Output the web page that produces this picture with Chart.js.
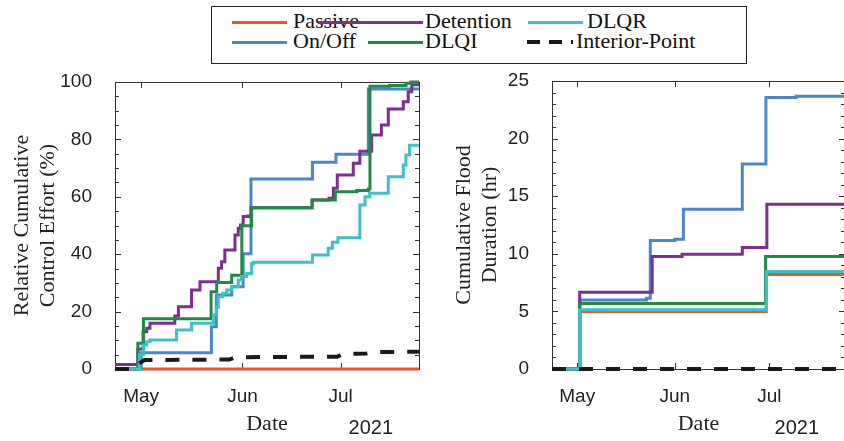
<!DOCTYPE html>
<html>
<head>
<meta charset="utf-8">
<script src="https://cdn.jsdelivr.net/npm/chart.js@4.4.1/dist/chart.umd.min.js"></script>
<style>
  body { margin: 0; width: 844px; height: 441px; overflow: hidden; background: #fff; position: relative; }
  .panel { position: absolute; top: 0; width: 430px; height: 441px; }
  #legendBox { position: absolute; left: 211px; top: 6px; width: 534px; height: 56px; border: 1px solid #222; background: #fff; }
  .swatch { position: absolute; height: 3px; }
  .lbl { position: absolute; font-family: 'Liberation Serif', serif; font-size: 22px; line-height: 22px; color: #111; white-space: nowrap; }
</style>
</head>
<body>
<div class="panel" style="left:0"><canvas id="effortChart" width="430" height="441"></canvas></div>
<div class="panel" style="left:430px"><canvas id="floodChart" width="430" height="441"></canvas></div>
<div id="legendBox"></div>

<script>
// series shared by both panels
const seriesNames = ['Passive', 'On/Off', 'Detention', 'DLQI', 'DLQR', 'Interior-Point'];
const seriesColors = ['#F0532B', '#4A87C9', '#7E2E8D', '#1F8A45', '#3EC0C6', '#1A1A1A'];

// x axis: days counted from 1 May 2021
const xTickDays = [0, 31, 61];
const xTickLabels = ['May', 'Jun', 'Jul'];
const xMinDay = -8, xMaxDay = 85;
const yearLabel = '2021';

// Left panel: relative cumulative control effort (%) as [day, value] steps
const effortPassive = [[-8, 0], [85, 0]];
const effortOnOff = [[-8, 0], [-1, 0], [0, 5.7], [21.5, 14.7], [23, 25.8], [27.7, 28.7], [31.2, 40.2],
  [33.6, 66.2], [52.4, 72], [59.6, 74.8], [69.5, 97.6], [85, 97.6]];
const effortDetention = [[-8, 1.6], [-2, 1.6], [-1, 7], [0.6, 13], [1.7, 14.2], [2.7, 15.9], [10.3, 18.5],
  [11.4, 21.7], [15.4, 27.5], [18, 30.4], [23.6, 35.1], [24.6, 37.4], [25.6, 41.5], [28.7, 46.7],
  [29.7, 49], [30.4, 50.2], [31.2, 53.1], [32.8, 53.3], [33.6, 56.2], [52.3, 58.9], [57.5, 59.5],
  [58.8, 63], [60, 67.6], [64.9, 71.7], [66.9, 75.9], [70.5, 81.5], [73.5, 85], [75.6, 90.6],
  [80.2, 93.1], [81.7, 96.6], [82.8, 99], [85, 99]];
const effortDLQI = [[-8, 0], [-2, 0], [-1, 9], [0.7, 17.5], [21.4, 26.9], [23.1, 30.1], [27.7, 32.7],
  [30.8, 49.9], [33.8, 56.2], [52.3, 58.9], [59.4, 61.8], [66, 62.2], [69.5, 62.7], [70, 98.5],
  [76, 98.8], [81, 99.6], [82.5, 100], [85, 100]];
const effortDLQR = [[-8, 0], [-1.5, 0], [-0.5, 5], [0.7, 8.4], [1.7, 9.5], [2.7, 10.1], [10.8, 13.6],
  [15.4, 15.9], [22.1, 18.8], [23, 21.5], [23.6, 25.2], [25, 26.4], [26.2, 27.5], [27.7, 28.7],
  [29.7, 31], [30.7, 32.2], [32.3, 33.3], [33.8, 36.8], [34.3, 37.2], [52.4, 39.7], [57.2, 42.1],
  [58.5, 44.2], [60.2, 45.7], [66.9, 57.1], [68.5, 60], [69.9, 61.2], [75.6, 67], [80.2, 71.1],
  [81, 74.6], [82.1, 78], [85, 78]];
const effortInteriorPoint = [[-8, 0], [-2, 0], [-0.5, 2], [1, 3.1], [27, 3.3], [29, 4.1], [60, 4.3],
  [61.5, 5.2], [69, 5.4], [71, 5.9], [85, 6]];

// Right panel: cumulative flood duration (hr)
const floodPassive = [[-8, 0], [0.8, 5.0], [60, 8.2], [85, 8.2]];
const floodOnOff = [[-8, 0], [0.8, 6.0], [22, 6.15], [23.2, 11.15], [31, 11.26], [33.7, 13.86],
  [52.4, 17.79], [59.9, 23.57], [69.5, 23.68], [85, 23.68]];
const floodDetention = [[-8, 0], [0.8, 6.67], [23.8, 9.76], [33.3, 9.96], [52.4, 10.54], [60.2, 14.3], [85, 14.3]];
const floodDLQI = [[-8, 0], [0.8, 5.69], [59.8, 9.76], [85, 9.76]];
const floodDLQR = [[-8, 0], [0.8, 5.14], [60, 8.47], [85, 8.47]];
const floodInteriorPoint = [[-8, 0], [85, 0]];

// Box around the plot area with inward ticks on all four sides
const axesBox = {
    id: 'axesBox',
    beforeDatasetsDraw(chart, args, opts) {
        const { ctx, chartArea: a, scales: { x, y } } = chart;
        ctx.save();
        ctx.strokeStyle = '#333';
        ctx.lineWidth = 1;
        ctx.strokeRect(Math.round(a.left) + 0.5, Math.round(a.top) + 0.5, Math.round(a.width), Math.round(a.height));
        ctx.beginPath();
        for (let v = y.min; v <= y.max + 1e-9; v += opts.minor) {
            const py = Math.round(y.getPixelForValue(v)) + 0.5;
            const len = Math.abs(v % opts.major) < 1e-9 ? 6 : 4;
            ctx.moveTo(a.left, py); ctx.lineTo(a.left + len, py);
            ctx.moveTo(a.right, py); ctx.lineTo(a.right - len, py);
        }
        xTickDays.forEach(d => {
            const px = Math.round(x.getPixelForValue(d)) + 0.5;
            ctx.moveTo(px, a.bottom); ctx.lineTo(px, a.bottom - 6);
            ctx.moveTo(px, a.top); ctx.lineTo(px, a.top + 6);
        });
        ctx.stroke();
        ctx.restore();
    },
    afterDraw(chart) {
        const { ctx, chartArea: a } = chart;
        ctx.save();
        ctx.font = '20px "Liberation Sans", Arial, sans-serif';
        ctx.fillStyle = '#222';
        ctx.textAlign = 'right';
        ctx.textBaseline = 'alphabetic';
        ctx.fillText(yearLabel, a.right - 26, a.bottom + 65);
        ctx.restore();
    }
};

function makeChart(id, series, yMax, yMajor, yMinor, yTitle, pad) {
    const datasets = series.map((pts, i) => ({
        label: seriesNames[i],
        data: pts.map(p => ({ x: p[0], y: p[1] })),
        borderColor: seriesColors[i],
        borderWidth: i === 5 ? 4 : 3,
        borderDash: i === 5 ? [14, 13] : [],
        borderCapStyle: 'butt',
        stepped: i === 5 ? false : 'before',
        tension: 0,
        pointRadius: 0,
        clip: 6,
        order: 5 - i
    }));

    return new Chart(document.getElementById(id), {
        type: 'line',
        data: { datasets },
        plugins: [axesBox],
        options: {
            responsive: false,
            animation: false,
            events: [],
            layout: { padding: { top: pad.top, right: pad.right, left: 0, bottom: 0 } },
            plugins: {
                legend: { display: false },
                tooltip: { enabled: false },
                axesBox: { major: yMajor, minor: yMinor }
            },
            scales: {
                x: {
                    type: 'linear',
                    min: xMinDay,
                    max: xMaxDay,
                    grid: { display: false },
                    border: { display: false },
                    afterBuildTicks: axis => { axis.ticks = xTickDays.map(v => ({ value: v })); },
                    afterFit: axis => { axis.height = 72; },
                    ticks: {
                        autoSkip: false,
                        maxRotation: 0,
                        padding: 8,
                        color: '#222',
                        font: { family: '"Liberation Sans", Arial, sans-serif', size: 19 },
                        callback: v => xTickLabels[xTickDays.indexOf(v)] ?? ''
                    },
                    title: {
                        display: true,
                        text: 'Date',
                        color: '#222',
                        padding: { top: 0, bottom: 4 },
                        font: { family: '"Liberation Serif", serif', size: 22, lineHeight: 1.15 }
                    }
                },
                y: {
                    min: 0,
                    max: yMax,
                    grid: { display: false },
                    border: { display: false },
                    afterFit: axis => { axis.width = pad.left; },
                    ticks: {
                        stepSize: yMajor,
                        padding: pad.tick,
                        color: '#222',
                        font: { family: '"Liberation Sans", Arial, sans-serif', size: 19 }
                    },
                    title: {
                        display: true,
                        text: yTitle,
                        color: '#222',
                        padding: { top: pad.title, bottom: 0 },
                        font: { family: '"Liberation Serif", serif', size: 22, lineHeight: 1.15 }
                    }
                }
            }
        }
    });
}

makeChart('effortChart',
    [effortPassive, effortOnOff, effortDetention, effortDLQI, effortDLQR, effortInteriorPoint],
    100, 20, 5, ['Relative Cumulative', 'Control Effort (%)'],
    { top: 82, right: 11, left: 115, tick: 15, title: 10 });

makeChart('floodChart',
    [floodPassive, floodOnOff, floodDetention, floodDLQI, floodDLQR, floodInteriorPoint],
    25, 5, 1, ['Cumulative Flood', 'Duration (hr)'],
    { top: 81, right: 15, left: 122, tick: 15, title: 22 });

// Legend spanning both panels (column order as in the figure)
const legendSlots = [
    { x1: 232, x2: 287, tx: 293, y: 22 },  // Passive
    { x1: 232, x2: 287, tx: 293, y: 42 },  // On/Off
    { x1: 318, x2: 423, tx: 425, y: 22 },  // Detention
    { x1: 368, x2: 423, tx: 425, y: 42 },  // DLQI
    { x1: 528, x2: 583, tx: 587, y: 22 },  // DLQR
    { x1: 527, x2: 573, tx: 576, y: 42 }   // Interior-Point
];
seriesNames.forEach((name, i) => {
    const s = legendSlots[i];
    const sw = document.createElement('div');
    sw.className = 'swatch';
    sw.style.left = s.x1 + 'px';
    sw.style.width = (s.x2 - s.x1) + 'px';
    sw.style.top = (s.y - 1.5) + 'px';
    if (i === 5) {
        sw.style.height = '4px';
        sw.style.top = (s.y - 2) + 'px';
        sw.style.background = `repeating-linear-gradient(to right, ${seriesColors[i]} 0 13px, transparent 13px 22px)`;
    } else {
        sw.style.background = seriesColors[i];
    }
    document.body.appendChild(sw);

    const t = document.createElement('div');
    t.className = 'lbl';
    t.textContent = name;
    t.style.left = s.tx + 'px';
    t.style.top = (s.y - 12) + 'px';
    document.body.appendChild(t);
});
</script>
</body>
</html>
